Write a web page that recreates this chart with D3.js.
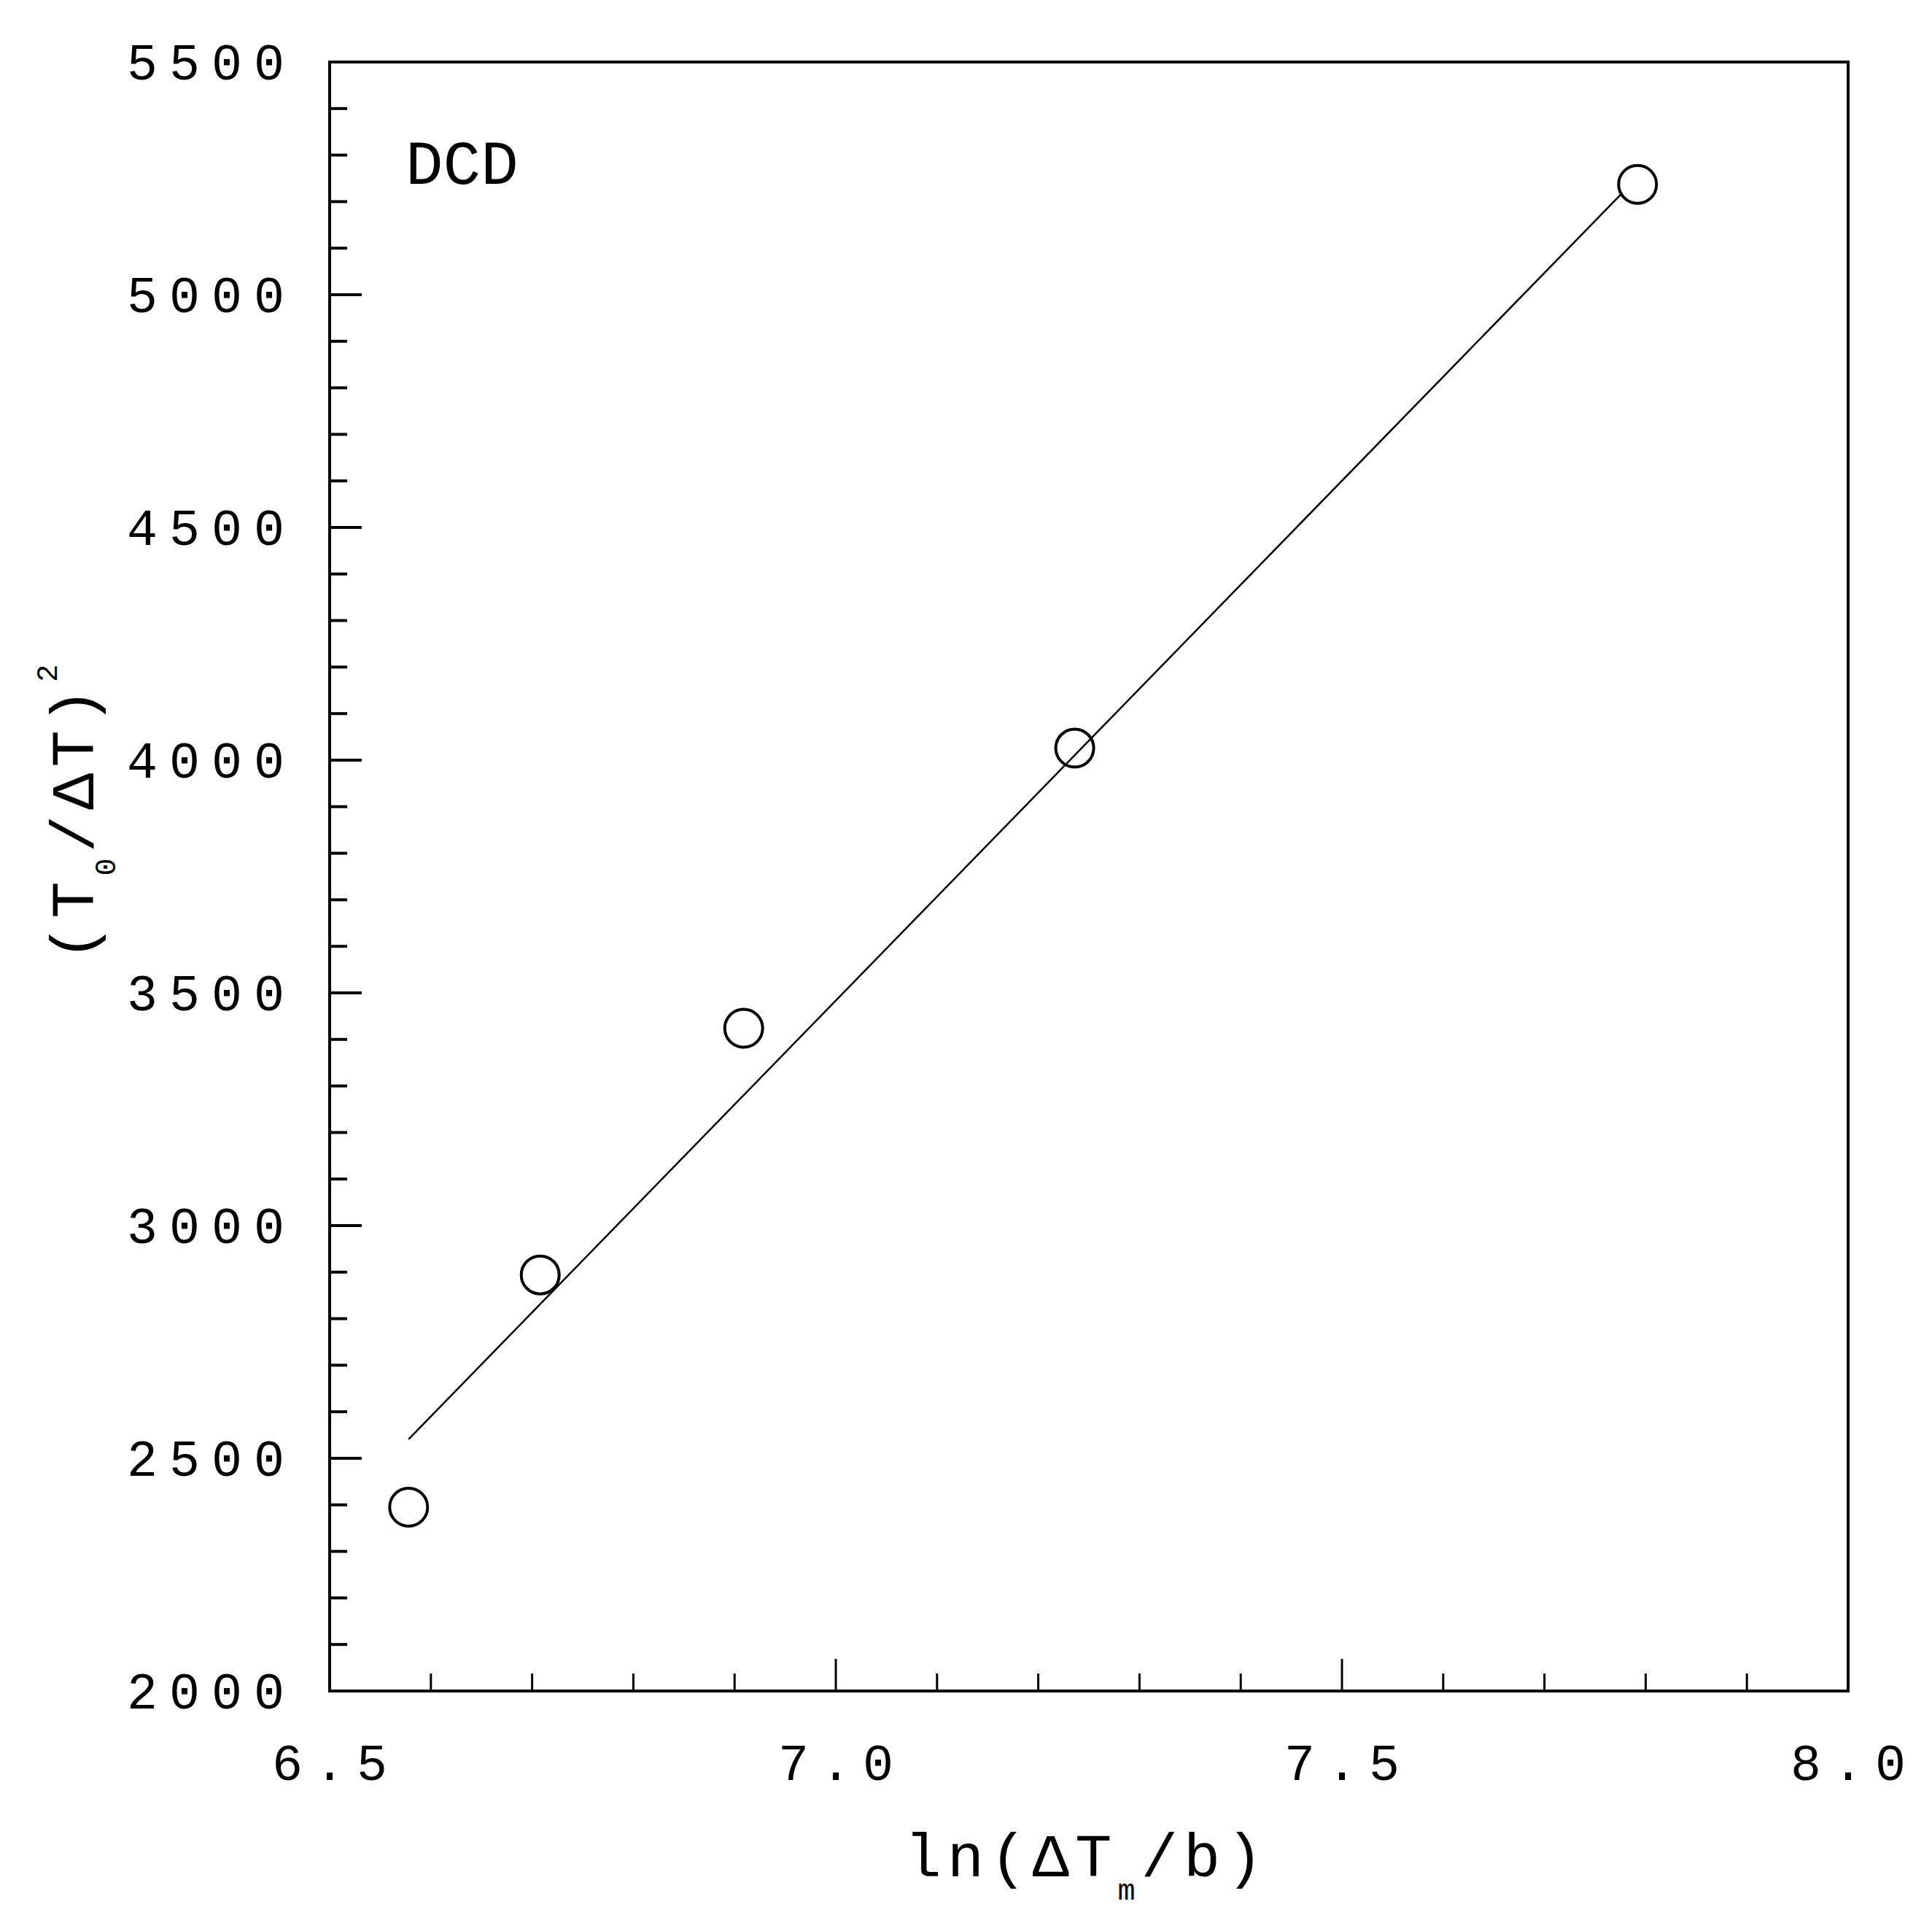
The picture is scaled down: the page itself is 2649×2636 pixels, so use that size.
<!DOCTYPE html>
<html><head><meta charset="utf-8">
<script src="https://cdn.jsdelivr.net/npm/d3@7"></script>
<style>body{margin:0;background:#fff}</style>
</head><body>
<script>
// data
var xs = [6.578, 6.708, 6.909, 7.236, 7.792];
var ys = [2395, 2894, 3424, 4026, 5237];
var fitX = [6.578, 7.777];
var fitY = [2541, 5219];
var xTicks = [6.5, 7.0, 7.5, 8.0];
var yTicks = [2000, 2500, 3000, 3500, 4000, 4500, 5000, 5500];

var W = 2649, H = 2636;
var m = {left: 452, right: 2534, top: 85, bottom: 2318};
var font = "'Liberation Mono', 'Courier New', monospace";

var svg = d3.select("body").append("svg").attr("width", W).attr("height", H);
var x = d3.scaleLinear().domain([6.5, 8.0]).range([m.left, m.right]);
var y = d3.scaleLinear().domain([2000, 5500]).range([m.bottom, m.top]);

// minor + major ticks (inward)
d3.range(6.6, 8.0, 0.1).forEach(function(v) {
  var major = Math.abs(v * 2 - Math.round(v * 2)) < 1e-6;
  svg.append("line").attr("x1", x(v)).attr("x2", x(v))
    .attr("y1", m.bottom).attr("y2", m.bottom - (major ? 44 : 24))
    .attr("stroke", "#000").attr("stroke-width", 3);
});
d3.range(2100, 5500, 100).forEach(function(v) {
  var major = v % 500 === 0;
  svg.append("line").attr("y1", y(v)).attr("y2", y(v))
    .attr("x1", m.left).attr("x2", m.left + (major ? 44 : 24))
    .attr("stroke", "#000").attr("stroke-width", 4);
});

svg.append("rect").attr("x", m.left).attr("y", m.top)
  .attr("width", m.right - m.left).attr("height", m.bottom - m.top)
  .attr("fill", "none").attr("stroke", "#000").attr("stroke-width", 4);

svg.selectAll(".xl").data(xTicks).enter().append("text")
  .attr("x", function(d) { return x(d) + 8; }).attr("y", 2440)
  .attr("text-anchor", "middle").attr("font-family", font).attr("font-size", 70)
  .attr("letter-spacing", 16)
  .text(function(d) { return d.toFixed(1); });

svg.selectAll(".yl").data(yTicks).enter().append("text")
  .attr("x", 406).attr("y", function(d) { return y(d) + 24; })
  .attr("text-anchor", "end").attr("font-family", font).attr("font-size", 70)
  .attr("letter-spacing", 16)
  .text(function(d) { return d; });

// fit line
svg.append("line")
  .attr("x1", x(fitX[0])).attr("y1", y(fitY[0]))
  .attr("x2", x(fitX[1])).attr("y2", y(fitY[1]))
  .attr("stroke", "#000").attr("stroke-width", 2.5);

svg.selectAll("circle").data(xs).enter().append("circle")
  .attr("cx", function(d) { return x(d); })
  .attr("cy", function(d, i) { return y(ys[i]); })
  .attr("r", 26).attr("fill", "none").attr("stroke", "#000").attr("stroke-width", 4);

svg.append("text").attr("x", 556).attr("y", 252)
  .attr("font-family", font).attr("font-size", 86).text("DCD");

// x title
var xt = svg.append("text").attr("x", 1490).attr("y", 2572).attr("text-anchor", "middle")
  .attr("font-family", font).attr("font-size", 84).attr("letter-spacing", 8);
xt.append("tspan").text("ln(ΔT");
xt.append("tspan").attr("font-size", 40).attr("dy", 32).text("m");
xt.append("tspan").attr("dy", -32).text("/b)");

// y title
var yt = svg.append("text").attr("transform", "translate(128,1110) rotate(-90)")
  .attr("text-anchor", "middle").attr("font-family", font).attr("font-size", 84)
  .attr("letter-spacing", 8);
yt.append("tspan").text("(T");
yt.append("tspan").attr("font-size", 40).attr("dy", 30).text("0");
yt.append("tspan").attr("dy", -30).text("/ΔT)");
yt.append("tspan").attr("font-size", 40).attr("dy", -50).text("2");
</script>
</body></html>
